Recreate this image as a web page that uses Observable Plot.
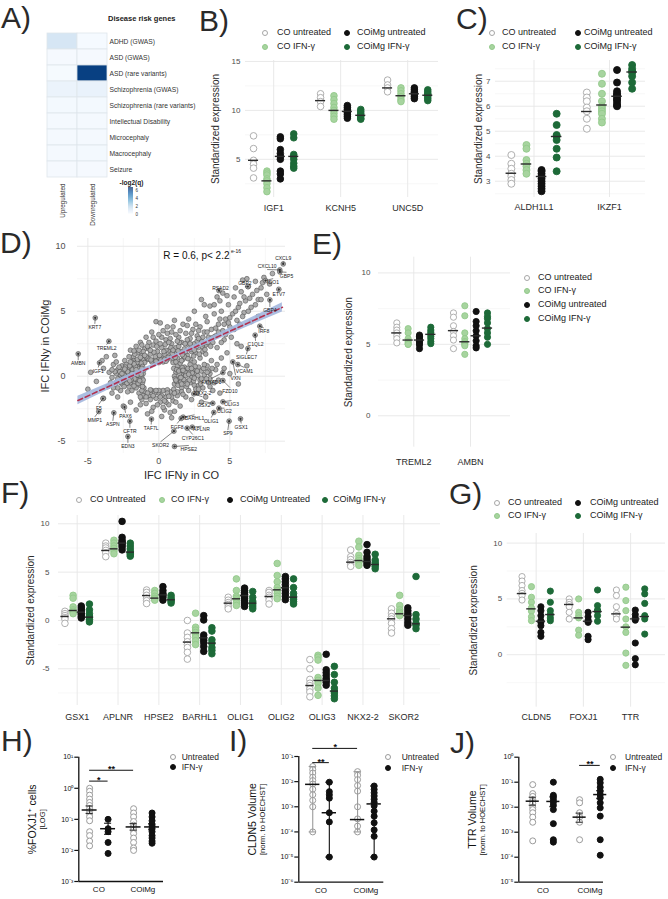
<!DOCTYPE html>
<html><head><meta charset="utf-8">
<script src="https://cdn.jsdelivr.net/npm/d3@7"></script>
<script src="https://cdn.jsdelivr.net/npm/@observablehq/plot@0.6"></script>
<style>
body{margin:0;background:#fff;font-family:"Liberation Sans",Arial,Helvetica,sans-serif;}
#root{position:relative;width:668px;height:899px;overflow:hidden;background:#fff;}
.letter{position:absolute;font-size:30px;line-height:30px;color:#2a2a2a;white-space:nowrap;}
.txt{position:absolute;white-space:nowrap;line-height:1;color:#222;}
.dot{position:absolute;border-radius:50%;box-sizing:border-box;}
</style></head><body><div id="root"></div>
<script>
// ---------------- DATA ----------------
// Panel A
const aDiseases = ["ADHD (GWAS)","ASD (GWAS)","ASD (rare variants)","Schizophrenia (GWAS)","Schizophrenia (rare variants)","Intellectual Disability","Microcephaly","Macrocephaly","Seizure"];
const aCols = ["Upregulated","Downregulated"];
const aUp = [1.1,0.08,0.06,0.4,0.12,0.1,0.1,0.1,0.08];
const aDown = [0.05,0.08,6.2,0.45,0.12,0.1,0.1,0.12,0.08];

// Panel B
const bGenes = ["IGF1","KCNH5","UNC5D"];
const bCoUntreated = [[7.4,6.1,4.9,4.5,4.1,3.1],[11.7,11.3,10.9,10.4],[13.1,12.6,12.3,11.9]];
const bCoIfn = [[3.8,3.6,3.4,3.0,2.8,2.5,2.1,1.7],[11.5,11.1,10.7,10.3,10.0,9.7,9.4,9.1],[12.3,12.0,11.7,11.4,11.1,10.9]];
const bCoimgUntreated = [[7.3,7.1,6.0,5.6,5.3,5.0,3.8,3.5,3.0],[10.5,10.3,10.1,9.9,9.8,9.6,9.4,9.2],[12.3,12.1,11.9,11.8,11.6,11.4,11.2]];
const bCoimgIfn = [[7.6,7.2,5.5,5.3,5.0,4.6,4.3,4.1],[10.1,9.9,9.7,9.5,9.4,9.2,9.1],[12.1,11.9,11.7,11.6,11.4,11.2,11.0]];
const bMeans = [[4.9,2.8,5.3,5.3],[11.0,10.0,9.9,9.5],[12.3,11.5,11.7,11.55]];

// Panel C
const cGenes = ["ALDH1L1","IKZF1"];
const cCoUntreated = [[4.05,3.7,3.5,3.3,3.2,3.05,2.9],[6.55,6.35,6.2,5.95,5.8,5.5,5.1]];
const cCoIfn = [[4.45,4.3,3.85,3.7,3.6,3.45,3.3],[7.3,6.9,6.5,6.2,6.0,5.9,5.8,5.7,5.5,5.35]];
const cCoimgUntreated = [[3.45,3.4,3.3,3.2,3.1,3.0,2.9,2.8,2.7,2.6],[7.45,6.95,6.6,6.5,6.45,6.4,6.3,6.25,6.15,6.05,6.0]];
const cCoimgIfn = [[5.7,5.25,4.85,4.8,4.65,4.3,3.95,3.4],[7.65,7.5,7.4,7.35,7.2,6.95,6.7]];
const cMeans = [[3.32,3.69,3.19,4.79],[5.79,6.05,6.4,7.37]];

// Panel D
const dPoints = [
 [-3.0,-0.5],[-2.8,-0.2],[-2.7,0.1],[-2.6,-0.6],[-2.5,0.4],[-2.4,-0.3],[-2.3,0.0],[-2.2,0.6],[-2.1,-0.8],[-2.0,-0.1],[-2.0,0.3],[-1.9,0.9],[-1.8,-0.5],[-1.8,0.2],[-1.7,0.5],[-1.6,-0.9],[-1.6,0.0],[-1.5,0.8],[-1.5,-0.3],[-1.4,0.3],[-1.4,1.1],[-1.3,-0.7],[-1.3,0.6],[-1.2,-0.1],[-1.2,0.9],[-1.15,-0.5],[-1.1,0.2],[-1.1,1.3],[-2.6,0.8],[-2.9,0.5],[-3.3,-0.1],[-3.5,0.3],[-3.2,0.9],[-2.4,1.2],[-1.9,-1.1],[-2.2,-1.2],[-3.6,-0.8],[-3.9,0.6],[-4.0,1.2],[-3.7,1.5],[-3.1,1.6],[-2.7,-1.1],
 [-1.8,1.5],[-1.5,1.8],[-1.2,1.6],[-1.0,2.1],[-0.8,1.3],[-0.6,1.7],[-0.4,2.4],[-0.3,1.2],[-0.1,1.9],[0.0,1.4],[0.2,2.2],[0.3,1.1],[0.4,1.7],[0.5,2.8],[0.6,1.3],[0.7,2.0],[0.8,1.5],[0.9,2.5],[1.0,1.2],[1.1,1.8],[1.2,2.2],[1.3,1.4],[1.4,3.0],[1.5,1.9],[1.6,2.6],[1.7,1.3],[1.8,2.1],[1.9,3.3],[2.0,1.6],[2.1,2.4],[2.2,2.9],[2.3,1.9],[2.4,3.6],[2.5,2.5],[2.6,1.8],[2.7,3.1],[2.8,2.2],[2.9,3.8],[3.0,2.7],[3.1,1.9],[3.2,3.4],[3.3,2.4],[3.4,4.2],[3.5,3.0],[-1.3,2.6],[-0.9,3.0],[-0.5,3.4],[-0.2,4.2],[0.1,4.1],[0.3,3.5],[0.6,3.3],[1.0,3.8],[0.8,2.9],[-0.7,2.6],[-1.6,2.3],[-2.0,2.0],[0.2,3.0],[1.2,3.2],[1.7,4.0],[2.1,4.4],[2.6,4.0],[3.7,3.6],[3.9,4.8],[3.6,5.4],[3.0,5.9],[3.2,5.5],[2.5,5.0],
 [4.0,3.1],[4.2,4.0],[4.4,5.0],[4.5,3.5],[4.7,4.4],[4.9,5.5],[5.0,3.8],[5.2,4.8],[5.3,6.1],[5.5,4.3],[5.6,5.3],[5.8,6.5],[6.0,4.9],[6.1,5.8],[6.3,6.9],[6.5,5.3],[6.6,6.3],[6.8,7.3],[7.0,5.9],[7.2,6.8],[7.4,7.6],[7.6,6.3],[7.8,7.1],[8.0,7.9],[6.2,7.5],[5.9,7.4],[5.4,6.8],[4.8,6.2],[4.1,6.1],[4.3,5.8],[4.6,2.8],[5.1,3.0],[5.5,2.5],[6.5,4.2],[7.0,4.6],[3.8,2.6],[4.1,2.2],
 [1.1,-0.6],[1.2,0.3],[1.3,0.8],[1.4,-0.2],[1.5,0.5],[1.6,-0.9],[1.7,0.1],[1.8,0.7],[1.9,-0.4],[2.0,0.3],[2.1,-1.1],[2.2,0.9],[2.3,-0.1],[2.4,0.5],[2.5,-0.7],[2.6,0.2],[2.7,-1.3],[2.8,0.7],[2.9,-0.3],[3.0,0.4],[3.1,-0.9],[3.2,0.1],[3.3,-1.6],[3.4,0.8],[3.5,-0.5],[3.6,0.2],[3.8,-1.1],[4.0,0.5],[4.2,-0.3],[4.4,1.4],[4.6,0.6],[4.8,1.8],[5.0,0.2],[3.7,1.2],[2.5,1.1],[1.5,1.0],[1.9,-1.6],[2.3,-1.8],[3.0,-2.0],[4.3,-1.3],
 [-1.4,-1.3],[-1.2,-1.8],[-1.0,-1.2],[-0.9,-2.1],[-0.7,-1.5],[-0.5,-1.1],[-0.4,-2.4],[-0.2,-1.7],[0.0,-1.3],[0.1,-2.0],[0.3,-1.1],[0.4,-2.6],[0.5,-1.6],[0.7,-2.2],[0.8,-1.2],[1.0,-1.9],[1.1,-2.7],[1.3,-1.5],[1.5,-2.3],[-0.8,-2.9],[0.2,-3.1],[-1.6,-2.6],[-2.0,-2.0],[-2.9,-1.6],[-2.5,-2.3],[-3.3,-1.3],[0.9,-3.2],[1.6,-1.2],
 [-4.4,-0.4],[-4.8,0.3],[-3.9,-1.7],[-5.0,-1.0],[5.6,-0.6],[6.2,0.8],[5.8,2.3],
 [-1.0,1.05],[-0.5,1.1],[0.0,1.05],[0.5,1.15],[1.0,1.05],[-0.75,1.35],[-0.25,1.5],[0.25,1.35],[0.75,1.6],[-1.05,-0.9],[-1.1,-0.3],[-1.05,0.5],[-1.25,1.0],[1.05,-1.0],[1.1,0.0],[1.05,0.6],[1.25,-0.4],[1.2,1.1],[-0.6,-1.05],[0.0,-1.1],[0.6,-1.05],[-1.2,-1.1],[-1.8,1.2],[-2.3,0.9],[-2.9,-0.9],[-2.1,1.5],[1.8,1.5],[2.2,1.3],[2.9,1.4],[3.3,1.7],[0.5,2.0],[-0.2,2.7],[-1.1,1.9],[0.9,3.4],[1.4,2.3],[2.0,2.8],[2.7,2.7],[3.1,3.0],[1.6,0.2],[2.2,-0.5],[2.8,-0.7],[3.6,-0.2],[-1.7,-0.2],[-2.5,-0.1],[-2.0,-0.5],[-3.0,0.2],
 [-1.9,1.1],[-1.7,1.7],[-1.4,2.0],[-1.2,2.4],[-0.9,1.5],[-0.7,2.1],[-0.55,1.25],[-0.35,1.85],[-0.15,2.3],[0.05,1.6],[0.15,1.25],[0.35,1.9],[0.45,2.45],[0.65,1.45],[0.85,2.2],[0.95,1.75],[1.15,1.45],[1.35,1.95],[1.45,2.6],[1.65,1.65],[1.85,2.5],[2.05,1.35],[2.25,2.1],[2.45,1.55],[2.65,2.3],[2.85,1.7],[3.05,2.3],[3.25,2.05],[3.45,2.6],[3.65,2.3],[3.85,3.0],[4.2,3.4],[4.4,2.6],[4.7,3.2],[4.9,4.1],[5.3,3.6],[5.7,4.0],[5.9,4.6],[6.3,5.0],[6.8,5.5],[7.2,5.9],
 [-2.9,-0.2],[-2.75,0.35],[-2.55,-0.35],[-2.45,0.1],[-2.35,0.7],[-2.25,-0.55],[-2.15,0.25],[-2.05,0.8],[-1.95,-0.3],[-1.85,0.5],[-1.75,-0.75],[-1.65,0.25],[-1.55,1.05],[-1.45,-0.55],[-1.35,0.05],[-1.25,0.4],[-1.15,0.75],[-1.15,-0.8],[-1.45,0.6],[-1.65,0.75],[-2.45,-0.8],[-3.1,0.35],[-3.4,-0.5],[-3.2,-0.9],
 [1.15,-0.2],[1.25,0.5],[1.35,-0.7],[1.45,0.2],[1.55,-0.45],[1.65,0.65],[1.75,-0.25],[1.85,0.3],[1.95,-0.8],[2.05,0.6],[2.15,-0.3],[2.35,0.25],[2.45,-0.35],[2.55,0.75],[2.75,0.05],[2.95,-0.6],[3.15,0.6],[3.35,-0.2],[3.5,0.4],[3.75,0.6],[3.9,-0.5],[4.1,0.9],[1.3,-1.2],[1.7,-1.4],[2.6,-1.0],
 [-1.1,-1.5],[-0.8,-1.3],[-0.6,-1.8],[-0.3,-1.3],[-0.1,-2.2],[0.2,-1.5],[0.5,-2.0],[0.6,-1.3],[0.9,-1.6],[1.2,-2.0],[-1.3,-2.2],[-0.5,-2.7],[0.3,-2.4],[0.8,-2.8],
 [-1.0,1.6],[-0.6,2.0],[-0.2,1.15],[0.1,2.5],[0.4,1.3],[0.7,2.6],[1.0,2.0],[1.3,2.7],[1.6,1.2],[1.9,1.9],[2.2,2.5],[2.5,2.0],[2.8,2.9],[3.1,2.5],[3.4,3.4],[3.7,2.9],[4.0,3.7],[4.3,4.4],[4.6,4.0],[5.0,4.5],[5.4,5.0],[5.7,5.6],[6.0,6.1],[6.4,6.0],[6.9,6.6],[7.3,7.2],[-0.8,2.3],[-1.5,1.3],[-1.75,1.95],[0.0,3.2],[0.6,3.8],[1.1,4.3],[1.5,3.5],[2.3,3.3],[2.0,3.9],[2.8,3.5],[3.3,4.6],[3.9,5.5],[4.5,6.4],[-0.4,3.0],
 [-2.8,0.7],[-2.6,0.2],[-2.35,-0.15],[-2.2,0.35],[-2.05,-0.35],[-1.9,0.2],[-1.75,0.95],[-1.6,0.5],[-1.5,0.1],[-1.35,-0.35],[-1.25,0.15],[-1.2,0.6],[-2.7,-0.45],[-2.4,0.55],[-3.3,0.5],[-3.0,1.1],[-2.0,1.1],[-1.3,1.45],
 [1.2,-0.3],[1.4,0.4],[1.55,-0.1],[1.7,0.45],[1.9,0.05],[2.1,0.15],[2.3,0.6],[2.5,-0.15],[2.7,0.4],[3.0,-0.2],[3.2,0.9],[3.4,0.3],[2.0,-0.6],[1.6,-0.6],[2.8,-1.0],[3.6,-0.8],
 [-0.9,-1.6],[-0.4,-1.5],[0.1,-1.6],[0.4,-1.9],[0.7,-1.55],[1.1,-1.3],[-1.3,-1.6],[-0.2,-1.1]
];
const dLabGene = ["CXCL9","CXCL10","GBP5","IDO1","ETV7","GBP2","RSAD2","GBP4","IRF8","C1QL2","SIGLEC7","VCAM1","VXN","AKNAD1","FZD10","NKX2-2","GSX2","OLIG3","OLIG2","OLIG1","BARHL1","FGF8","APLNR","CYP26C1","SP9","GSX1","TAF7L","SKOR2","HPSE2","CFTR","EDN3","PAX6","ASPN","F5","MMP1","AMBN","IGF1","TREML2","KRT7"];
const dLabPx = [8.76,8.52,8.52,7.51,8.45,6.27,4.23,7.82,7.11,6.78,6.27,5.56,5.21,4.51,4.51,2.46,3.8,4.51,4.23,3.87,1.71,1.57,2.35,1.99,4.95,5.75,-0.52,1.06,1.1,-2.04,-2.18,-2.42,-3.17,-3.94,-4.23,-5.68,-4.18,-3.52,-4.48];
const dLabPy = [8.64,8.18,8.03,7.36,6.69,6.9,6.59,5.87,3.85,3.16,2.13,0.9,1.1,0.28,-0.33,-1.36,-2.08,-1.97,-2.46,-2.79,-3.15,-3.25,-3.92,-4.0,-3.46,-3.28,-3.3,-4.23,-5.41,-3.46,-4.64,-2.38,-2.82,-1.72,-2.72,1.72,1.03,2.69,4.49];
const dLabTx = [8.76,7.63,8.99,8.05,8.45,6.06,4.34,7.82,7.39,6.81,6.17,6.03,5.4,3.69,5.0,3.08,3.17,5.12,4.62,3.69,2.51,1.29,3.0,2.39,4.86,5.8,-0.54,0.12,2.11,-2.04,-2.18,-2.35,-3.24,-4.23,-4.51,-5.68,-4.27,-3.68,-4.51];
const dLabTy = [9.1,8.49,7.72,7.23,6.28,7.16,6.74,5.05,3.44,2.44,1.41,0.39,-0.2,-0.46,-1.15,-1.31,-2.23,-2.15,-2.74,-3.46,-3.25,-3.92,-4.13,-4.77,-4.43,-3.92,-4.0,-5.33,-5.61,-4.25,-5.41,-3.1,-3.72,-2.44,-3.41,0.95,0.39,2.15,3.75];
const dFitX = [-5.7,0.5,8.7];
const dFitY = [-1.87,1.22,5.3];
const dFitLo = [-2.2,1.1,4.95];
const dFitHi = [-1.55,1.35,5.65];

// Panel E
const eGenes = ["TREML2","AMBN"];
const eCoUntreated = [[6.5,6.2,6.0,5.8,5.6,5.4,5.1],[7.2,6.9,6.3,5.9,5.6,5.3,4.7]];
const eCoIfn = [[6.1,5.8,5.4,5.2,5.1,5.0,5.0],[7.7,7.0,5.8,5.4,5.2,5.1,5.0,4.9,4.3]];
const eCoimgUntreated = [[5.65,5.55,5.45,5.3,5.2,5.1,4.95,4.7],[7.3,6.6,6.3,5.95,5.6,5.25,4.9,4.75]];
const eCoimgIfn = [[6.2,6.0,5.85,5.7,5.55,5.4,5.2,5.05],[7.2,6.95,6.8,6.5,6.1,5.8,5.5,5.0]];
const eMeans = [[5.8,5.3,5.3,5.7],[5.96,5.18,5.6,6.14]];

// Panel F
const fGenes = ["GSX1","APLNR","HPSE2","BARHL1","OLIG1","OLIG2","OLIG3","NKX2-2","SKOR2"];
const fCoUntreated = [[0.95,0.7,0.5,0.3,0.15,-0.3],[8.0,7.7,7.5,7.25,7.0,6.6],[3.15,2.9,2.6,2.3,2.05,1.75],[0.0,-1.3,-1.75,-2.2,-2.5,-2.8,-3.3,-4.0],[2.4,2.1,1.85,1.65,1.4,1.2],[3.1,2.9,2.6,2.4,2.1,1.7],[-4.05,-5.0,-6.1,-6.5,-6.75,-7.1,-7.4,-7.9],[7.3,6.6,6.3,6.0,5.8,5.6],[1.2,0.75,0.4,0.15,-0.3,-0.85,-1.3]];
const fCoIfn = [[2.6,2.3,1.4,1.1,0.95,0.85,0.7],[8.3,8.0,7.7,7.45,7.2,6.9],[3.1,2.8,2.5,2.3,2.25,2.1],[0.75,-0.7,-1.0,-1.25,-1.5,-1.75,-2.1,-2.5],[4.3,3.1,2.5,2.3,2.1,1.8,1.55],[5.9,4.65,4.0,3.4,3.1,2.8,2.5,2.25],[-3.6,-3.8,-4.1,-5.9,-6.2,-6.5,-7.0,-7.75],[8.2,7.6,6.75,6.4,6.2,6.0,5.7],[2.6,1.55,1.1,0.85,0.7,0.5]];
const fCoimgUntreated = [[1.5,1.3,1.1,0.9,0.75,0.6,0.4,0.25],[10.25,8.6,8.3,8.1,8.0,7.8,7.6,7.3],[3.5,3.1,2.8,2.6,2.4,2.1],[0.5,0.05,-1.5,-1.8,-2.05,-2.3,-2.7,-3.2],[3.35,3.1,2.9,2.7,2.5,2.3,2.1,1.9,1.7,1.45],[4.55,4.3,4.0,3.7,3.4,3.1,2.8,2.5,2.15],[-3.5,-5.1,-5.4,-5.7,-6.0,-6.2,-6.4,-6.7],[7.85,7.05,6.6,6.35,6.1,5.9,5.7],[1.3,1.0,0.7,0.5,0.15,-0.2,-0.5]];
const fCoimgIfn = [[1.7,1.1,0.7,0.45,0.3,0.1,-0.15],[8.0,7.7,7.4,7.1,6.95,6.8,6.65],[2.6,2.35,2.15,2.0,1.8],[-0.75,-1.1,-2.0,-2.35,-2.8,-3.1,-3.45],[3.0,2.4,2.0,1.8,1.6,1.4,1.2],[4.3,3.4,2.8,2.45,2.2,1.95,1.7],[-4.75,-5.6,-6.4,-7.0,-7.3,-7.5,-7.8,-8.1],[6.85,6.25,6.0,5.8,5.6,5.35],[4.55,0.6,0.15,-0.3,-0.5,-0.85]];
const fMeans = [[0.41,1.03,0.86,0.34],[7.24,7.41,8.0,7.07],[2.58,2.31,2.65,2.14],[-2.24,-1.28,-1.8,-2.35],[1.79,2.24,2.58,1.79],[2.48,3.17,3.38,2.41],[-6.73,-6.21,-6.21,-7.31],[6.03,6.2,6.1,5.79],[0.17,0.69,0.51,-0.35]];

// Panel G
const gGenes = ["CLDN5","FOXJ1","TTR"];
const gCoUntreated = [[7.0,6.6,6.2,5.75,5.5,5.3,4.9],[5.0,4.7,4.5,4.3,3.8,3.2],[5.8,5.3,4.3,3.7,3.5,3.2]];
const gCoIfn = [[6.1,5.15,4.7,4.2,3.9,3.4,3.05],[5.0,3.8,3.5,3.3,2.2,1.75],[6.05,4.85,3.95,3.2,2.5,2.0,0.15,-0.95]];
const gCoimgUntreated = [[4.3,3.95,3.5,3.05,2.9,2.6,2.0,1.65],[3.8,3.4,3.1,2.9,1.65,1.35],[4.0,3.6,3.3,3.1,1.05,-0.35,-0.9]];
const gCoimgIfn = [[5.7,4.7,3.95,3.6,3.3,3.05],[5.8,4.4,4.0,3.9,3.5,3.0],[5.9,5.45,4.6,3.5,3.2,1.85]];
const gMeans = [[5.48,4.11,3.0,3.6],[4.5,3.3,3.0,3.87],[3.66,2.47,3.21,3.42]];

// Panel H
const hCoUntreated = [1.0,0.8,0.6,0.45,0.35,0.28,0.22,0.18,0.15,0.12,0.09,0.04,0.03,0.02,0.014];
const hCoIfn = [0.1,0.05,0.04,0.018,0.008];
const hCoimgUntreated = [0.22,0.16,0.12,0.085,0.065,0.055,0.045,0.035,0.025,0.018,0.012,0.01];
const hCoimgIfn = [0.16,0.12,0.09,0.07,0.06,0.05,0.04,0.03,0.025,0.02,0.017];
const hMean = [0.2,0.05,0.057,0.057];
const hSemLo = [0.155,0.033,0.045,0.046];
const hSemHi = [0.27,0.075,0.073,0.072];
const hSigFrom = [0,0], hSigTo = [1,2], hSigLevel = [1.7,3.8], hSigLabel = ["*","**"];

// Panel I
const iCoUntreated = [0.04,0.03,0.022,0.015,0.011,0.008,0.005,0.003,0.0018,0.001,0.0001];
const iCoIfn = [0.0095,0.004,0.003,0.0022,0.00058,0.00025,0.00001];
const iCoimgUntreated = [0.025,0.018,0.012,0.007,0.0042,0.001,0.00033,0.00017,0.0001];
const iCoimgIfn = [0.0067,0.0049,0.0036,0.0027,0.002,0.0015,0.0011,0.00067,0.00042,0.00023,0.00012,0.0000667,0.00001];
const iMedian = [0.0078,0.00058,0.00031,0.0013];
const iSigFrom = [0,0], iSigTo = [1,2], iSigLevel = [0.057,0.21], iSigLabel = ["**","*"];

// Panel J
const jCoUntreated = [0.08,0.035,0.027,0.02,0.017,0.014,0.01,0.008,0.006,0.004,0.0025,0.00045];
const jCoIfn = [0.1,0.03,0.025,0.02,0.016,0.012,0.008,0.0022,0.0005,0.0004];
const jCoimgUntreated = [0.02,0.015,0.006,0.004,0.0025,0.0005];
const jCoimgIfn = [0.13,0.094,0.063,0.044,0.032,0.024,0.015,0.0094,0.0044,0.0005,0.00012];
const jMean = [0.0174,0.017,0.004,0.032];
const jSemLo = [0.012,0.0105,0.0025,0.022];
const jSemHi = [0.025,0.026,0.0058,0.046];
const jSigFrom = [2], jSigTo = [3], jSigLevel = [0.47], jSigLabel = ["**"];

// ---------------- DRAWING ----------------
const FONT = '"Liberation Sans", Arial, Helvetica, sans-serif';
const STYLE = {fontFamily: FONT, fontSize: "8px", background: "transparent", overflow: "visible", color: "#222"};
const FILLS = ["#ffffff","#a7d49f","#111111","#1d6a38"];
const STROKES = ["#a6a6a6","#93c98b","#111111","#1d6a38"];
const root = document.getElementById("root");

function place(el, left, top) {
  el.style.position = "absolute"; el.style.left = left + "px"; el.style.top = top + "px";
  el.style.maxWidth = "none";
  root.appendChild(el);
}
function addText(text, left, top, css) {
  const d = document.createElement("div");
  d.className = "txt"; d.textContent = text;
  d.style.left = left + "px"; d.style.top = top + "px";
  Object.assign(d.style, css || {});
  root.appendChild(d);
  return d;
}
function letter(t, left, top) {
  const d = document.createElement("div");
  d.className = "letter"; d.textContent = t;
  d.style.left = left + "px"; d.style.top = top + "px";
  root.appendChild(d);
}
function legendItem(fill, stroke, cx, cy, tx, label, size) {
  const dm = 6.4;
  const d = document.createElement("div");
  d.className = "dot";
  Object.assign(d.style, {left: (cx - dm/2) + "px", top: (cy - dm/2) + "px", width: dm + "px", height: dm + "px", background: fill, border: "1px solid " + stroke});
  root.appendChild(d);
  addText(label, tx, cy, {fontSize: (size || 9) + "px", transform: "translateY(-52%)"});
}

function stripPanel(o) {
  const offs = [-0.3, -0.1, 0.1, 0.3];
  const pts = [], bars = [];
  o.genes.forEach((g, i) => {
    o.groups.forEach((grp, k) => {
      const x = i + 1 + offs[k];
      grp[i].forEach(v => pts.push({x, y: v, k}));
      bars.push({x, y: o.means[i][k]});
    });
  });
  const pos = o.genes.map((_, i) => i + 1);
  const el = Plot.plot({
    width: o.width, height: o.height,
    marginLeft: o.ml, marginRight: o.mr, marginTop: o.mt, marginBottom: o.mb,
    style: STYLE,
    x: {domain: o.xDomain, axis: null},
    y: {domain: o.yDomain, axis: null},
    color: {type: "identity"},
    marks: [
      Plot.gridY({ticks: o.minor, stroke: "#f3f3f3", strokeOpacity: 1, strokeWidth: 0.7}),
      Plot.gridY({ticks: o.major, stroke: "#e6e6e6", strokeOpacity: 1, strokeWidth: 0.9}),
      Plot.gridX({ticks: pos, stroke: "#e6e6e6", strokeOpacity: 1, strokeWidth: 0.9}),
      Plot.axisY({ticks: o.major, label: null, tickSize: 0, tickPadding: o.tp, fontSize: 8, color: "#4d4d4d", tickFormat: d => String(d)}),
      Plot.axisX({ticks: pos, label: null, tickSize: 0, tickPadding: o.xp, fontSize: 9, color: "#2a2a2a", tickFormat: i => o.genes[i - 1]}),
      Plot.text(["Standardized expression"], {frameAnchor: "left", dx: o.titleDx, rotate: -90, textAnchor: "middle", lineAnchor: "middle", fontSize: 10, fill: "#2a2a2a", text: d => d}),
      Plot.dot(pts, {x: "x", y: "y", r: o.r, fill: d => FILLS[d.k], stroke: d => STROKES[d.k], strokeWidth: 0.9}),
      Plot.ruleY(bars, {y: "y", x1: d => d.x - o.mh, x2: d => d.x + o.mh, stroke: "#2b2b2b", strokeWidth: 1.4})
    ]
  });
  place(el, o.left, o.top);
}

const SUP = {"-":"\u207B","0":"\u2070","1":"\u00B9","2":"\u00B2","3":"\u00B3","4":"\u2074","5":"\u2075","6":"\u2076"};
const logLab = d => "10" + String(Math.round(Math.log10(d))).split("").map(c => SUP[c]).join("");

function logPanel(o) {
  const xg = [1 - o.off, 1 + o.off, 2 - o.off, 2 + o.off];
  const pts = [];
  o.groups.forEach((arr, k) => arr.forEach(v => pts.push({x: xg[k], y: v, k})));
  const stats = o.center.map((c, k) => ({x: xg[k], c, lo: o.lo[k], hi: o.hi[k], k}));
  const sig = o.sigFrom.map((f, j) => ({x1: xg[f], x2: xg[o.sigTo[j]], y: o.sigLevel[j], label: o.sigLabel[j]}));
  const barColor = d => d.k % 2 ? "#111" : o.untreatedBar;
  const el = Plot.plot({
    width: o.width, height: o.height,
    marginLeft: o.ml, marginRight: o.mr, marginTop: o.mt, marginBottom: o.mb,
    style: STYLE,
    x: {domain: o.xDomain, axis: null},
    y: {type: "log", domain: o.yDomain, axis: null},
    color: {type: "identity"},
    marks: [
      Plot.dot(pts, {x: "x", y: "y", r: 3, fill: d => d.k % 2 ? "#111" : "#fff", stroke: d => d.k % 2 ? "#111" : "#9b9b9b", strokeWidth: 1}),
      Plot.ruleX(stats, {x: "x", y1: "lo", y2: "hi", stroke: barColor, strokeWidth: 1.1}),
      Plot.ruleY(stats, {y: "lo", x1: d => d.x - o.cap, x2: d => d.x + o.cap, stroke: barColor, strokeWidth: 1.1}),
      Plot.ruleY(stats, {y: "hi", x1: d => d.x - o.cap, x2: d => d.x + o.cap, stroke: barColor, strokeWidth: 1.1}),
      Plot.ruleY(stats, {y: "c", x1: d => d.x - o.mh, x2: d => d.x + o.mh, stroke: "#111", strokeWidth: 1.5}),
      Plot.ruleX([o.xDomain[0]], {stroke: "#111", strokeWidth: 1.3}),
      Plot.ruleY([o.yDomain[0]], {stroke: "#111", strokeWidth: 1.3}),
      Plot.axisY({ticks: o.ticks, label: null, tickSize: 4, tickPadding: 1.5, fontSize: 7, color: "#111", strokeWidth: 1.2, tickFormat: logLab}),
      Plot.axisX({ticks: [1, 2], label: null, tickSize: 0, tickPadding: 5, fontSize: 8, color: "#111", tickFormat: i => ["CO","COiMg"][i - 1]}),
      Plot.text([o.title], {frameAnchor: "left", dx: -46.6, rotate: -90, textAnchor: "middle", lineAnchor: "middle", fontSize: 10.5, fill: "#111", text: d => d}),
      Plot.text([o.sub], {frameAnchor: "left", dx: -36, rotate: -90, textAnchor: "middle", lineAnchor: "middle", fontSize: 7.6, fill: "#111", text: d => d}),
      Plot.ruleY(sig, {y: "y", x1: "x1", x2: "x2", stroke: "#111", strokeWidth: 1}),
      Plot.text(sig, {x: d => (d.x1 + d.x2) / 2, y: "y", text: "label", fontSize: 9, fontWeight: "bold", dy: 2, lineAnchor: "bottom", fill: "#111"})
    ]
  });
  place(el, o.left, o.top);
  legendItem("#fff", "#9b9b9b", o.legX, 756.7, o.legTx, "Untreated", 8.5);
  legendItem("#111", "#111", o.legX, o.legY2, o.legTx, "IFN-\u03B3", 8.5);
}

// ---- Panel A ----
const aRows = aDiseases.flatMap((d, i) => [{col: aCols[0], disease: d, v: aUp[i]}, {col: aCols[1], disease: d, v: aDown[i]}]);
const aColor = {type: "linear", scheme: "blues", domain: [0, 6.6]};
place(Plot.plot({
  width: 230, height: 205, marginLeft: 46, marginRight: 123, marginTop: 14, marginBottom: 40,
  style: STYLE,
  x: {domain: aCols, padding: 0, axis: null},
  y: {domain: aDiseases, padding: 0, axis: null},
  color: aColor,
  marks: [
    Plot.cell(aRows, {x: "col", y: "disease", fill: "v", stroke: "#dfe5ec", strokeWidth: 0.8}),
    Plot.axisY({anchor: "right", label: null, tickSize: 0, tickPadding: 2, fontSize: 6.7, color: "#333"}),
    Plot.axisX({anchor: "bottom", label: null, tickSize: 0, tickPadding: 3, tickRotate: -90, fontSize: 6.3, color: "#333"})
  ]
}), 0, 15);
addText("Disease risk genes", 108, 19, {fontSize: "7.5px", fontWeight: "bold", transform: "translateY(-50%)"});
addText("-log2(q)", 119.5, 182.5, {fontSize: "6.5px", fontWeight: "bold", transform: "translateY(-50%)"});
place(Plot.plot({
  width: 40, height: 36, marginLeft: 10, marginRight: 25, marginTop: 4, marginBottom: 4,
  style: STYLE,
  x: {domain: [0, 1], axis: null},
  y: {domain: [-0.3, 6.8], axis: null},
  color: aColor,
  marks: [
    Plot.rect(d3.range(0, 6.8, 0.1), {x1: d => 0, x2: d => 1, y1: d => d, y2: d => d + 0.1, fill: d => d}),
    Plot.axisY({anchor: "right", label: null, ticks: [0, 2, 4, 6], tickSize: 0, tickPadding: 2, fontSize: 4.5, color: "#333"})
  ]
}), 118, 183);

// ---- Panel B ----
stripPanel({genes: bGenes, groups: [bCoUntreated, bCoIfn, bCoimgUntreated, bCoimgIfn], means: bMeans,
  left: 200, top: 55, width: 250, height: 165, ml: 45, mr: 12, mt: 5, mb: 23,
  xDomain: [0.58, 3.46], yDomain: [1.1, 15.1], major: [5, 10, 15], minor: [2.5, 7.5, 12.5],
  r: 3.3, mh: 0.075, tp: 5, xp: 7, titleDx: -30});
// ---- Panel C ----
stripPanel({genes: cGenes, groups: [cCoUntreated, cCoIfn, cCoimgUntreated, cCoimgIfn], means: cMeans,
  left: 445, top: 55, width: 215, height: 165, ml: 50, mr: 15, mt: 5, mb: 23,
  xDomain: [0.49, 2.477], yDomain: [2.35, 7.83], major: [3, 4, 5, 6, 7], minor: [2.5, 3.5, 4.5, 5.5, 6.5, 7.5],
  r: 3.5, mh: 0.07, tp: 5, xp: 6.5, titleDx: -17});
// ---- Panel E ----
stripPanel({genes: eGenes, groups: [eCoUntreated, eCoIfn, eCoimgUntreated, eCoimgIfn], means: eMeans,
  left: 335, top: 250, width: 185, height: 220, ml: 43, mr: 10, mt: 6.7, mb: 23.3,
  xDomain: [0.377, 2.706], yDomain: [-2.2, 11.1], major: [0, 5, 10], minor: [2.5, 7.5],
  r: 3.1, mh: 0.09, tp: 8, xp: 11, titleDx: -30});
// ---- Panel F ----
stripPanel({genes: fGenes, groups: [fCoUntreated, fCoIfn, fCoimgUntreated, fCoimgIfn], means: fMeans,
  left: 0, top: 505, width: 450, height: 225, ml: 58, mr: 10, mt: 10, mb: 25,
  xDomain: [0.542, 9.9], yDomain: [-8.8, 10.86], major: [-5, 0, 5, 10], minor: [-7.5, -2.5, 2.5, 7.5],
  r: 3.3, mh: 0.1, tp: 9, xp: 8, titleDx: -28});
// ---- Panel G ----
stripPanel({genes: gGenes, groups: [gCoUntreated, gCoIfn, gCoimgUntreated, gCoimgIfn], means: gMeans,
  left: 460, top: 525, width: 208, height: 200, ml: 46.7, mr: 3, mt: 8, mb: 18.3,
  xDomain: [0.386, 3.74], yDomain: [-4.7, 10.86], major: [0, 5, 10], minor: [-2.5, 2.5, 7.5],
  r: 3.1, mh: 0.1, tp: 5, xp: 6, titleDx: -33});

// ---- Panel D ----
const dLabels = dLabGene.map((g, i) => ({gene: g, px: dLabPx[i], py: dLabPy[i], tx: dLabTx[i], ty: dLabTy[i]}));
const dFit = dFitX.map((x, i) => ({x, y: dFitY[i], lo: dFitLo[i], hi: dFitHi[i]}));
place(Plot.plot({
  width: 300, height: 260, marginLeft: 77, marginRight: 15, marginTop: 13, marginBottom: 32,
  style: STYLE,
  x: {domain: [-5.73, 8.92], axis: null},
  y: {domain: [-5.95, 10.6], axis: null},
  marks: [
    Plot.gridX({ticks: [-2.5, 2.5, 7.5], stroke: "#f3f3f3", strokeOpacity: 1, strokeWidth: 0.7}),
    Plot.gridY({ticks: [-2.5, 2.5, 7.5], stroke: "#f3f3f3", strokeOpacity: 1, strokeWidth: 0.7}),
    Plot.gridX({ticks: [-5, 0, 5], stroke: "#e6e6e6", strokeOpacity: 1, strokeWidth: 0.9}),
    Plot.gridY({ticks: [-5, 0, 5, 10], stroke: "#e6e6e6", strokeOpacity: 1, strokeWidth: 0.9}),
    Plot.axisX({ticks: [-5, 0, 5], label: null, tickSize: 0, tickPadding: 4, fontSize: 9, color: "#4d4d4d", tickFormat: d => String(d)}),
    Plot.axisY({ticks: [-5, 0, 5, 10], label: null, tickSize: 0, tickPadding: 12, fontSize: 9, color: "#4d4d4d", tickFormat: d => String(d)}),
    Plot.text(["IFC IFNy in CO"], {frameAnchor: "bottom", dy: 22, textAnchor: "middle", lineAnchor: "middle", fontSize: 11, fill: "#2a2a2a", text: d => d}),
    Plot.text(["IFC IFNy in COiMg"], {frameAnchor: "left", dx: -32, rotate: -90, textAnchor: "middle", lineAnchor: "middle", fontSize: 11, fill: "#2a2a2a", text: d => d}),
    Plot.dot(dPoints, {x: d => d[0], y: d => d[1], r: 2.4, fill: "#acacac", stroke: "#474747", strokeWidth: 0.55}),
    Plot.dot(dLabels, {x: "px", y: "py", r: 2.4, fill: "#acacac", stroke: "#474747", strokeWidth: 0.55}),
    Plot.areaY(dFit, {x: "x", y1: "lo", y2: "hi", fill: "#a3b7de", fillOpacity: 0.9}),
    Plot.line(dFit, {x: "x", y: "y", stroke: "#b3304e", strokeWidth: 1.6, strokeDasharray: "5,3"}),
    Plot.link(dLabels, {x1: "tx", y1: d => d.ty + (d.py > d.ty ? 0.28 : -0.28), x2: "px", y2: "py", stroke: "#333", strokeWidth: 0.6}),
    Plot.dot(dLabels, {x: "px", y: "py", r: 1.1, fill: "#333"}),
    Plot.text(dLabels, {x: "tx", y: "ty", text: "gene", fontSize: 5, fill: "#1a1a1a"}),
    Plot.text(["R = 0.6, p< 2.2"], {frameAnchor: "top", dx: 48, dy: 17, textAnchor: "end", lineAnchor: "middle", fontSize: 10, fill: "#111", text: d => d}),
    Plot.text(["e-16"], {frameAnchor: "top", dx: 49.5, dy: 13, textAnchor: "start", lineAnchor: "middle", fontSize: 5, fill: "#111", text: d => d})
  ]
}), 0, 225);

// ---- Panels H, I, J ----
logPanel({groups: [hCoUntreated, hCoIfn, hCoimgUntreated, hCoimgIfn], center: hMean, lo: hSemLo, hi: hSemHi,
  sigFrom: hSigFrom, sigTo: hSigTo, sigLevel: hSigLevel, sigLabel: hSigLabel,
  left: 0, top: 745, width: 175, height: 154, ml: 78.3, mr: 12, mt: 11.7, mb: 18,
  xDomain: [0.544, 2.47], yDomain: [1e-3, 10], ticks: [10, 1, 0.1, 0.01, 0.001],
  off: 0.21, cap: 0.08, mh: 0.17, untreatedBar: "#333",
  title: "%FOXJ1\u207A cells", sub: "[LOG]", legX: 173, legTx: 181.7, legY2: 767.3});
logPanel({groups: [iCoUntreated, iCoIfn, iCoimgUntreated, iCoimgIfn], center: iMedian,
  lo: [iCoUntreated, iCoIfn, iCoimgUntreated, iCoimgIfn].map(a => d3.min(a)),
  hi: [iCoUntreated, iCoIfn, iCoimgUntreated, iCoimgIfn].map(a => d3.max(a)),
  sigFrom: iSigFrom, sigTo: iSigTo, sigLevel: iSigLevel, sigLabel: iSigLabel,
  left: 220, top: 745, width: 175, height: 154, ml: 78.3, mr: 11.7, mt: 11, mb: 17.3,
  xDomain: [0.504, 2.40], yDomain: [1e-6, 0.1], ticks: [0.1, 0.01, 0.001, 1e-4, 1e-5, 1e-6],
  off: 0.185, cap: 0.08, mh: 0.16, untreatedBar: "#9a9a9a",
  title: "CLDN5 Volume", sub: "[norm. to HOECHST]", legX: 388.3, legTx: 401.7, legY2: 768.3});
logPanel({groups: [jCoUntreated, jCoIfn, jCoimgUntreated, jCoimgIfn], center: jMean, lo: jSemLo, hi: jSemHi,
  sigFrom: jSigFrom, sigTo: jSigTo, sigLevel: jSigLevel, sigLabel: jSigLabel,
  left: 440, top: 745, width: 175, height: 154, ml: 78.3, mr: 12, mt: 11.7, mb: 17.3,
  xDomain: [0.483, 2.29], yDomain: [1e-5, 1], ticks: [1, 0.1, 0.01, 0.001, 1e-4, 1e-5],
  off: 0.22, cap: 0.075, mh: 0.14, untreatedBar: "#333",
  title: "TTR Volume", sub: "[norm. to HOECHST]", legX: 613.3, legTx: 625, legY2: 768.3});

// ---- Legends for expression panels ----
const LOW = ["CO untreated","CO IFN-\u03B3","COiMg untreated","COiMg IFN-\u03B3"];
const UP = ["CO Untreated","CO IFN-\u03B3","COiMg Untreated","COiMg IFN-\u03B3"];
[[0,265,33,277],[1,265,47,277],[2,347,33,357],[3,347,47,357]].forEach(([k,cx,cy,tx]) => legendItem(FILLS[k], STROKES[k], cx, cy, tx, LOW[k], 9));
[[0,492,33,502],[1,492,47,502],[2,578,33,584],[3,578,47,584]].forEach(([k,cx,cy,tx]) => legendItem(FILLS[k], STROKES[k], cx, cy, tx, LOW[k], 9));
[[0,526.7,277.7,538],[1,526.7,291,538],[2,526.7,305.3,538],[3,526.7,319,538]].forEach(([k,cx,cy,tx]) => legendItem(FILLS[k], STROKES[k], cx, cy, tx, LOW[k], 9));
[[0,79,500,90],[1,162,500,171],[2,230,500,240],[3,325,500,333]].forEach(([k,cx,cy,tx]) => legendItem(FILLS[k], STROKES[k], cx, cy, tx, UP[k], 9));
[[0,497,503,508],[1,497,515.7,508],[2,578,503,590],[3,578,515.7,590]].forEach(([k,cx,cy,tx]) => legendItem(FILLS[k], STROKES[k], cx, cy, tx, LOW[k], 9));

// ---- Panel letters ----
letter("A)", 1, 3); letter("B)", 199, 6); letter("C)", 456, 4);
letter("D)", 0, 228); letter("E)", 312, 229);
letter("F)", 1, 478); letter("G)", 449, 479);
letter("H)", 1, 726); letter("I)", 229, 726); letter("J)", 450, 728);
</script></body></html>
